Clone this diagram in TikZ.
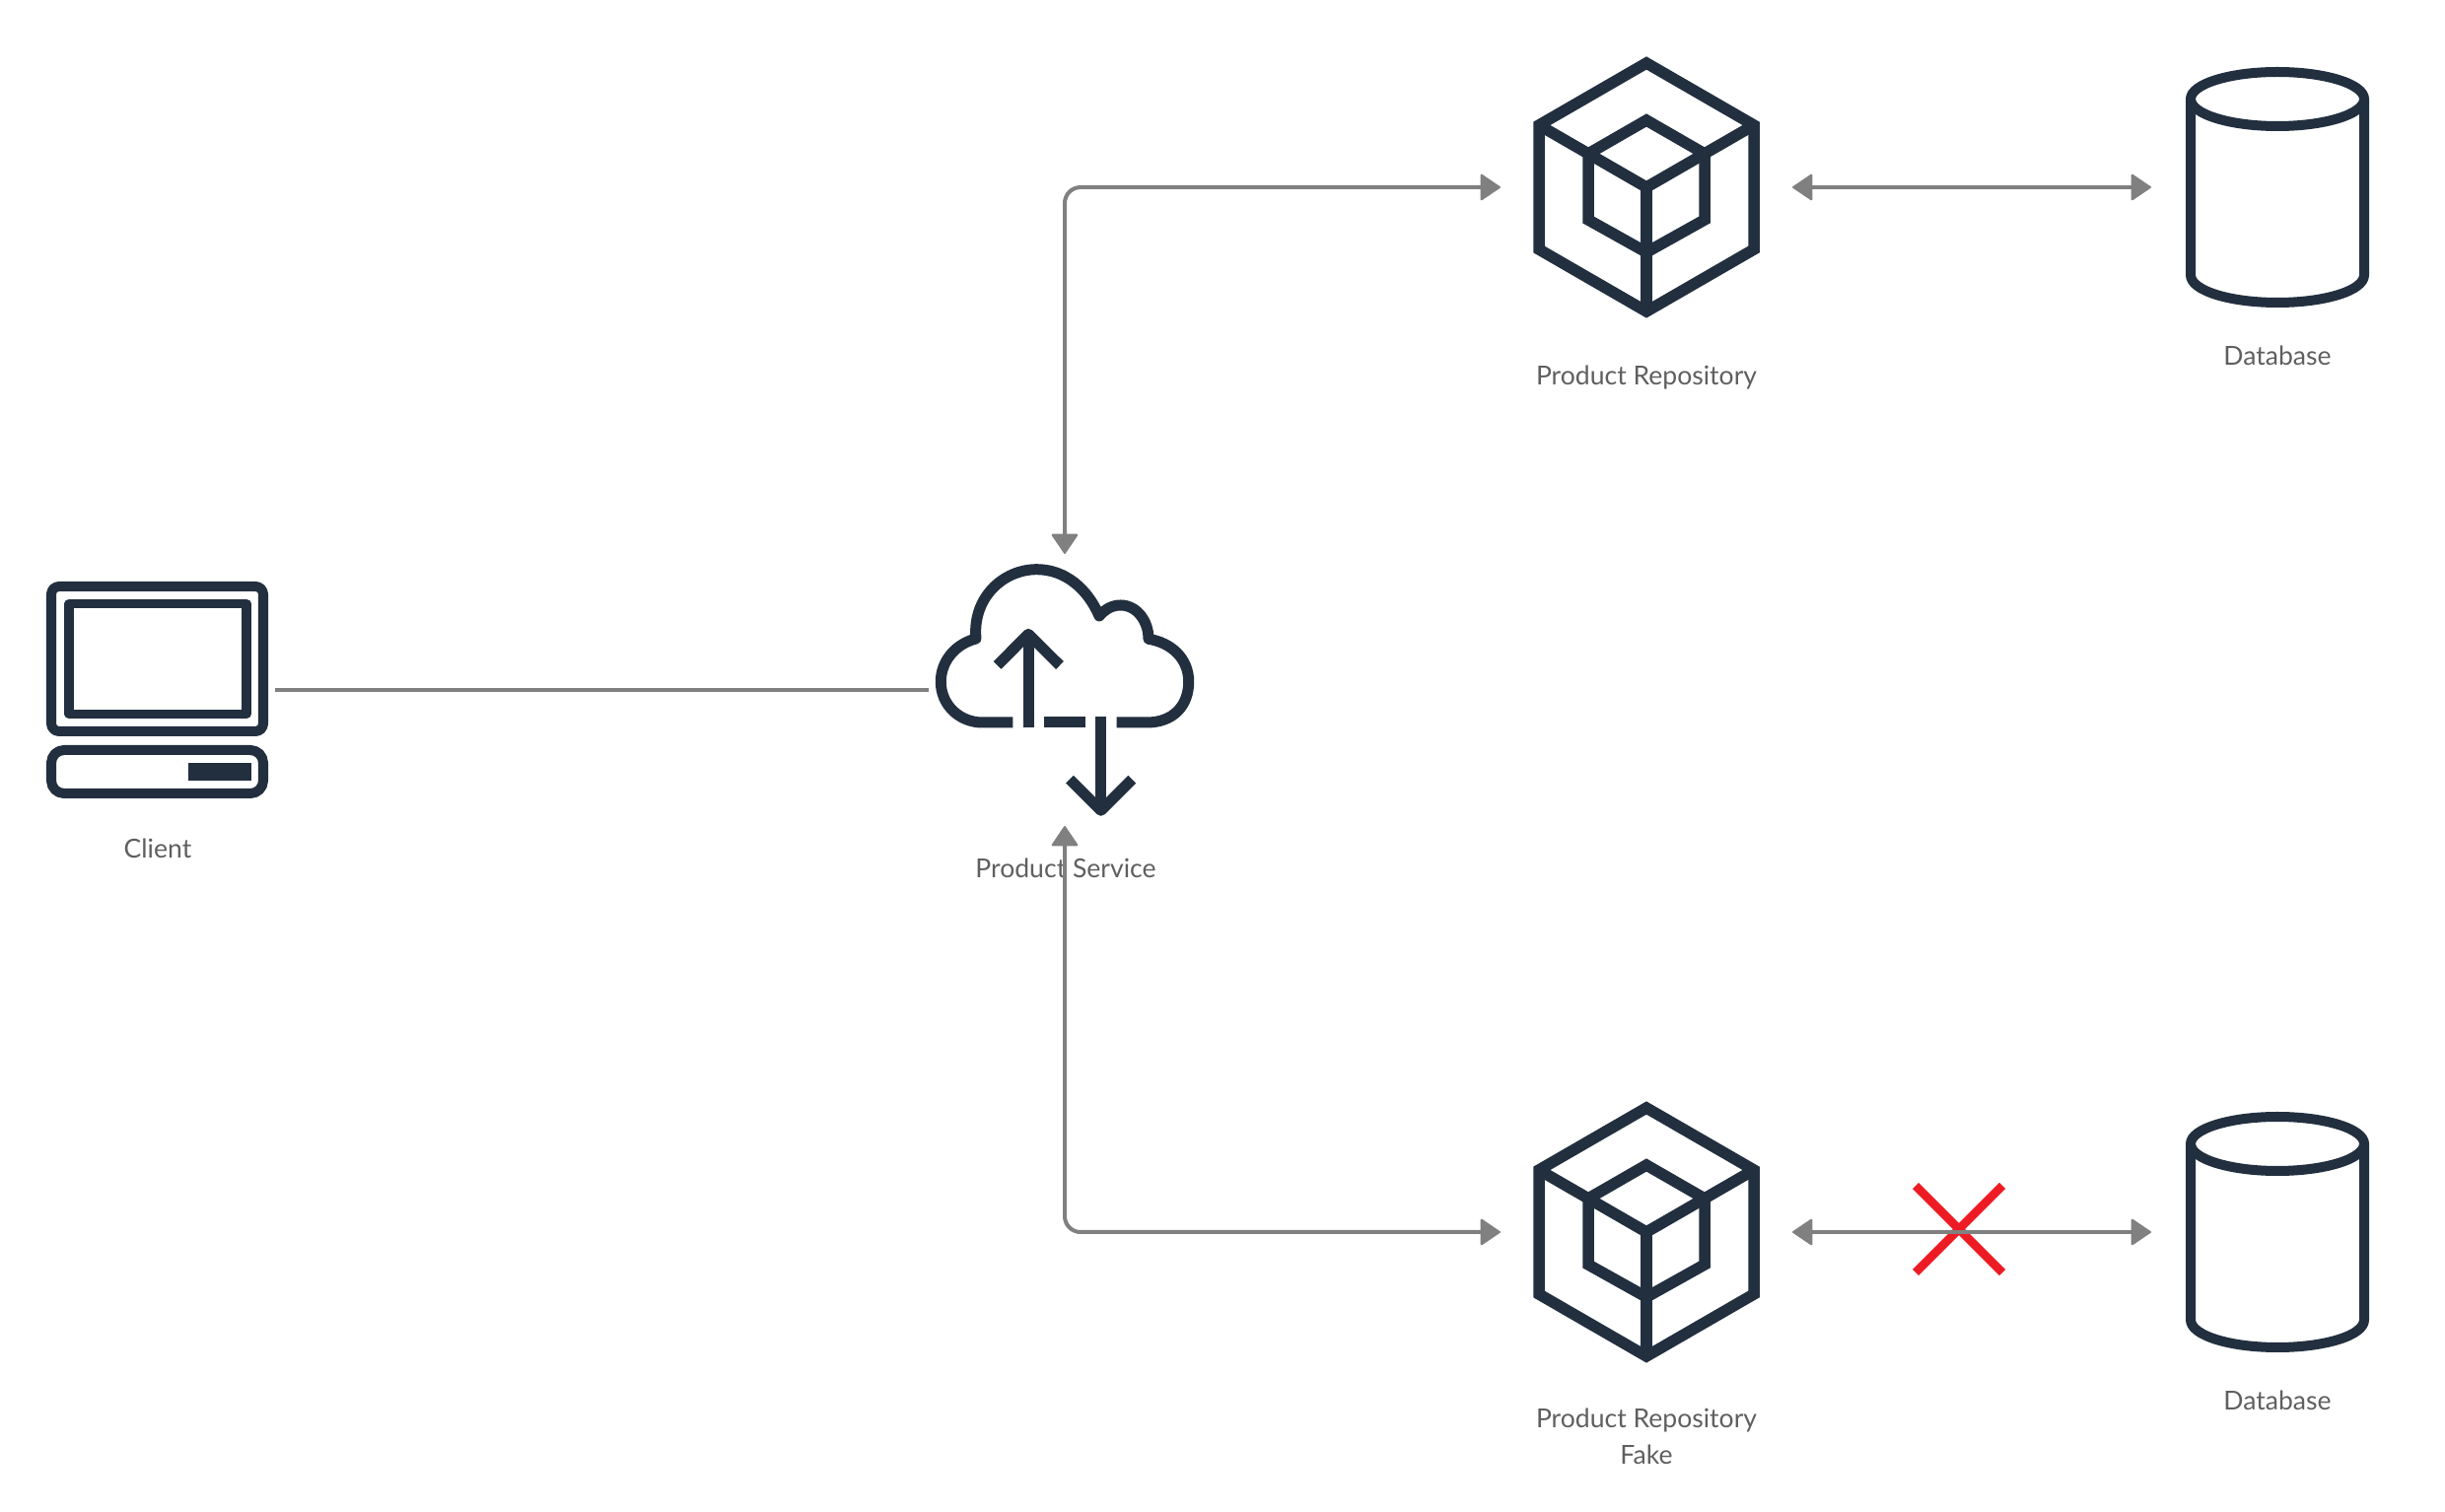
\documentclass[tikz,border=0pt]{standalone}
\usepackage{fontspec}
\setmainfont{Lato}
\usetikzlibrary{arrows.meta}
\definecolor{icondark}{HTML}{222F3F}
\definecolor{linkgray}{HTML}{808080}
\definecolor{labelgray}{HTML}{5F5F5F}
\definecolor{crossred}{HTML}{ED1C24}
\tikzset{
  iconbox/.style={inner sep=0, outer sep=0, minimum width=#1, minimum height=2.76cm},
  icon/.style={draw=icondark, line width=0.1cm},
  tag/.style={text=labelgray, font=\fontsize{7.55pt}{10.8pt}\selectfont, align=center, anchor=base, inner sep=0},
  link/.style={draw=linkgray, line width=0.04cm},
  headtip/.tip={Triangle[length=0.21cm, width=0.28cm, line width=0.02cm, round]},
  twoway/.style={link, headtip-headtip},
  hexcube/.pic={
    % outer hexagon
    \draw[icon, line width=0.115cm, line join=miter] (0,-126) -- (109,-63) -- (109,63) -- (0,126) -- (-109,63) -- (-109,-63) -- cycle;
    \draw[icon, line width=0.115cm, line join=miter] (-109,-63) -- (0,0) -- (109,-63);
    \draw[icon, line width=0.115cm] (0,0) -- (0,126);
    % inner hexagon
    \draw[icon, line width=0.115cm, line join=miter] (-59,-34) -- (0,-68) -- (59,-34) -- (59,33) -- (0,66) -- (-59,33) -- cycle;
  },
  dbcyl/.pic={
    \draw[icon] (0,-89.5) ellipse [x radius=88, y radius=27.5];
    \draw[icon] (-88,-89.5) -- (-88,89) .. controls (-88,105) and (-48,117) .. (0,117) .. controls (48,117) and (88,105) .. (88,89) -- (88,-89.5);
  }
}
\begin{document}
\begin{tikzpicture}[x=0.01cm, y=-0.01cm, line join=round]
  \useasboundingbox (0,0) rectangle (2480,1534);
  % icon boxes
  \node[iconbox=2.38cm] (client) at (160,700) {};
  \node[iconbox=2.76cm] (service) at (1080,700) {};
  \node[iconbox=2.96cm] (repo) at (1670,190) {};
  \node[iconbox=2.56cm] (db) at (2310,190) {};
  \node[iconbox=2.96cm] (repofake) at (1670,1250) {};
  \node[iconbox=2.56cm] (dbfake) at (2310,1250) {};

  % client
  \draw[icon, rounded corners=0.08cm] (52,595) rectangle (267,742);
  \draw[icon, line width=0.09cm] (70,612.5) rectangle (250,724.5);
  \draw[icon, rounded corners=0.13cm] (52,761) rectangle (267,805);
  \fill[icondark] (191,774) rectangle (255,792);

  % cloud
  \draw[icon, line width=0.11cm] (1027.3,733) -- (996.7,733)
    .. controls (973,733) and (954.3,715) .. (954.3,691.7)
    .. controls (954.3,670) and (970,653) .. (990,648)
    .. controls (986,607) and (1017,577.7) .. (1051.7,577.7)
    .. controls (1080,577.7) and (1103,597) .. (1115,625)
    .. controls (1121,618) and (1128,614) .. (1136.7,614)
    .. controls (1153,614) and (1165,630) .. (1165,648.3)
    .. controls (1188,652) and (1205.7,668) .. (1205.7,691.7)
    .. controls (1205.7,716) and (1190,733) .. (1163.3,733) -- (1132.7,733);
  \draw[icon, line width=0.11cm] (1059,733) -- (1101,733);
  % up and down arrows
  \draw[icon, line width=0.11cm] (1043,738.5) -- (1043,645);
  \draw[icon, line width=0.11cm] (1011.7,675) -- (1043,643.3) -- (1075,675);
  \draw[icon, line width=0.11cm] (1116.7,727.5) -- (1116.7,820);
  \draw[icon, line width=0.11cm] (1085,790.7) -- (1116.7,822.3) -- (1148.3,790.7);

  % repositories and databases
  \pic at (repo.center) {hexcube};
  \pic at (repofake.center) {hexcube};
  \pic at (db.center) {dbcyl};
  \pic at (dbfake.center) {dbcyl};

  % labels
  \node[tag] (clienttag) at (160,871) {Client};
  \node[tag] (servicetag) at (1081,891) {Product Service};
  \node[tag] (repotag) at (1670,391) {Product Repository};
  \node[tag] (dbtag) at (2310,371) {Database};
  \node[tag] (repofaketag) at (1670,1486) {Product Repository\\Fake};
  \node[tag] (dbfaketag) at (2310,1431) {Database};

  % red cross
  \draw[crossred, line width=0.087cm] (1943,1203) -- (2031,1291);
  \draw[crossred, line width=0.087cm] (2031,1203) -- (1943,1291);

  % connectors
  \draw[link] (client.east) -- (service.west);
  \draw[twoway, rounded corners=0.16cm] (service.north) |- (repo.west);
  \draw[twoway, rounded corners=0.16cm] (service.south) |- (repofake.west);
  \draw[twoway] (repo.east) -- (db.west);
  \draw[twoway] (repofake.east) -- (dbfake.west);
\end{tikzpicture}
\end{document}
